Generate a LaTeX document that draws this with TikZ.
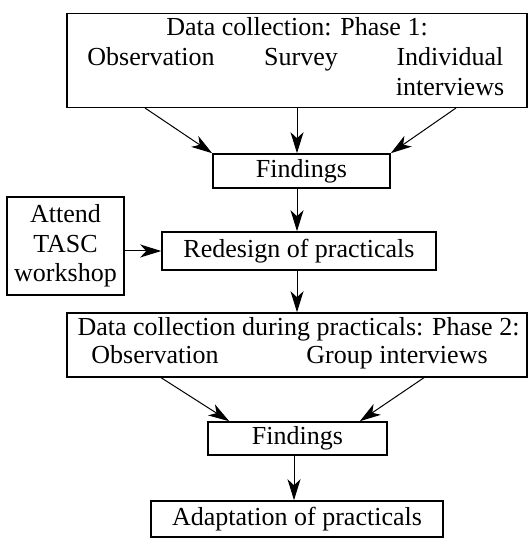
\documentclass[tikz,border=0pt]{standalone}
\usepackage{fontspec}
\setmainfont{Liberation Serif}
\usetikzlibrary{arrows.meta}

\tikzset{
  stagebox/.style={draw, line width=0.8pt, inner sep=0pt, align=center},
  label/.style={inner sep=0pt, anchor=base},
  flow/.style={line width=0.5pt, -{Stealth[length=10.5pt,width=6.5pt,inset=3pt]}}
}

\begin{document}
\begin{tikzpicture}[x=0.5pt,y=-0.5pt,font=\fontsize{13}{14.7}\selectfont]
        \useasboundingbox (0,0) rectangle (530,544);
        % phase 1
        \node[stagebox, minimum width=230pt, minimum height=47pt] (phaseone) at (297,60.5) {};
        \node[label] (title1) at (297,36) {Data collection: Phase 1:};
        \node[label] (obs1) at (151,66) {Observation};
        \node[label] (survey1) at (301,66) {Survey};
        \node[label] (indiv1) at (450,66) {Individual};
        \node[label] (interv1) at (450,96) {interviews};
        \node[stagebox, minimum width=88.5pt, minimum height=17pt] (find1) at (301.5,171) {Findings};
        % redesign
        \node[stagebox, minimum width=137pt, minimum height=19pt] (redesign) at (299,251) {Redesign of practicals};
        \node[stagebox, minimum width=58.5pt, minimum height=49pt] (attend) at (65.5,246) {Attend\\TASC\\workshop};
        % phase 2
        \node[stagebox, minimum width=230pt, minimum height=32pt] (phasetwo) at (297,345) {};
        \node[label] (title2) at (298.5,335) {Data collection during practicals: Phase 2:};
        \node[label] (obs2) at (155,363) {Observation};
        \node[label] (group2) at (397,363) {Group interviews};
        \node[stagebox, minimum width=89.5pt, minimum height=16.5pt] (find2) at (297.5,438.5) {Findings};
        \node[stagebox, minimum width=146pt, minimum height=18pt] (adapt) at (297,519) {Adaptation of practicals};

        \coordinate (col) at (297,0);
        \coordinate (colb) at (294,0);
        \coordinate (outa) at (145,108);
        \coordinate (outb) at (456,108);
        \coordinate (outc) at (160,377);
        \coordinate (outd) at (425,377);

        \draw[flow] (outa) -- (find1.north west);
        \draw[flow] (col |- phaseone.south) -- (col |- find1.north);
        \draw[flow] (outb) -- (find1.north east);
        \draw[flow] (col |- find1.south) -- (col |- redesign.north);
        \draw[flow] (attend.east |- redesign.west) -- (redesign.west);
        \draw[flow] (col |- redesign.south) -- (col |- phasetwo.north);
        \draw[flow] (outc) -- ([xshift=11pt]find2.north west);
        \draw[flow] (outd) -- ([xshift=-14pt]find2.north east);
        \draw[flow] (colb |- find2.south) -- (colb |- adapt.north);
\end{tikzpicture}
\end{document}
